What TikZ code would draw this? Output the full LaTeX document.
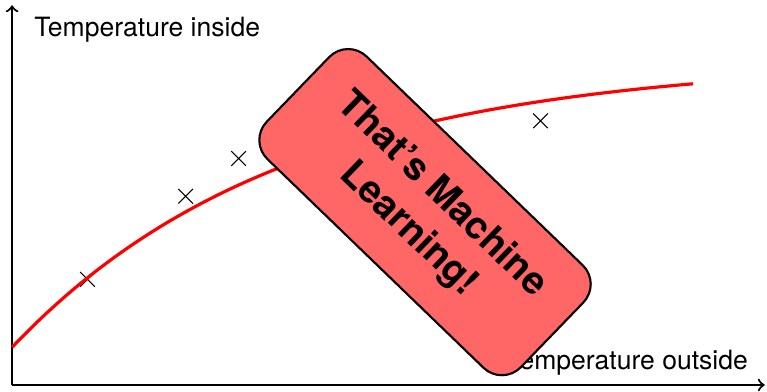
\documentclass[tikz,border=0pt]{standalone}
\usepackage{fontspec}
\setmainfont{TeX Gyre Heros}
\usetikzlibrary{shapes.misc}

\tikzset{
    sample/.style={cross out, draw, minimum size=0.18cm, inner sep=0pt},
    stamp/.style={draw, thick, fill=red!60, rounded corners=0.35cm, rotate=-44,
        minimum width=4.68cm, minimum height=1.89cm, align=center,
        font=\Large\bfseries}
}

\begin{document}
\begin{tikzpicture}
    \useasboundingbox (-0.16,-0.09) rectangle (10.0,5.1);

    \coordinate (origin) at (0,0);
    \coordinate (xend) at (9.97,0);
    \coordinate (yend) at (0,5.03);
    \draw[thick, ->] (origin) -- (xend);
    \draw[thick, ->] (origin) -- (yend);

    \node[anchor=west] (ylabel) at (0.17,4.70) {Temperature inside};
    \node[anchor=east] (xlabel) at (9.87,0.29) {Temperature outside};

    \node[sample] (p1) at (1,1.4) {};
    \node[sample] (p2) at (2.3,2.5) {};
    \node[sample] (p3) at (3,3) {};
    \node[sample] (p4) at (7,3.5) {};

    \draw[red, very thick, domain=0:9.02, samples=80] plot (\x, {4.3-3.8*exp(-\x/3.6)});

    \node[stamp] (mlbox) at (5.47,2.29) {That's Machine\\Learning!};
\end{tikzpicture}
\end{document}
